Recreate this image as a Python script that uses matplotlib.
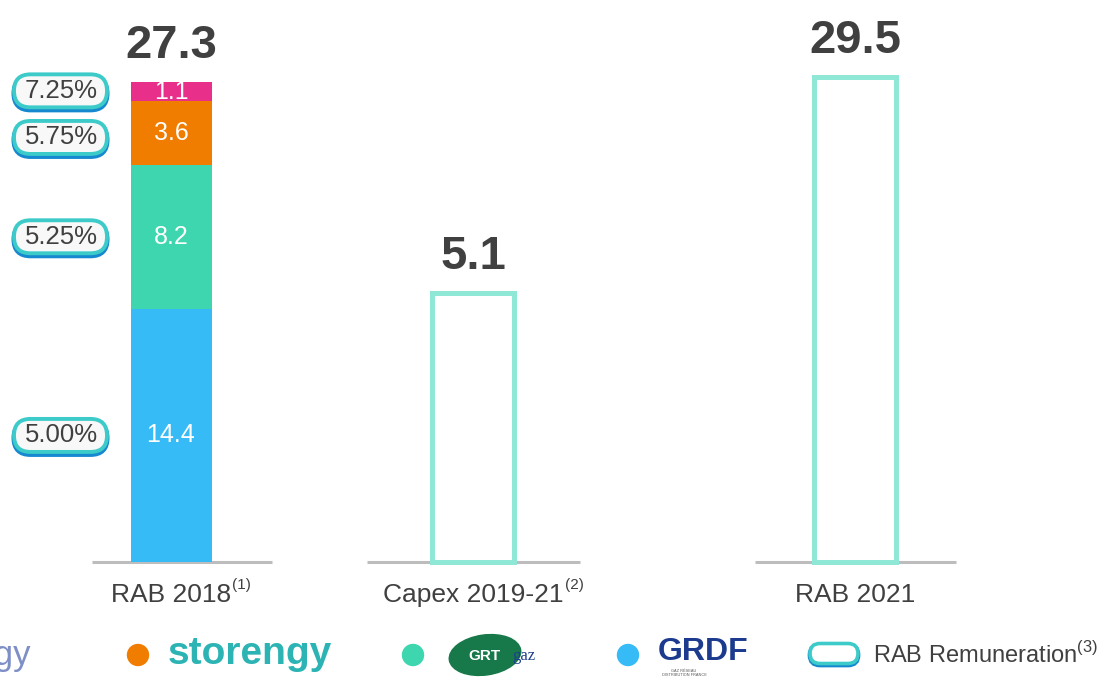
import matplotlib.pyplot as plt
import matplotlib.patches as mpatches

plt.rcParams['font.family'] = ['Liberation Sans', 'DejaVu Sans']
plt.rcParams['mathtext.fontset'] = 'custom'
plt.rcParams['mathtext.rm'] = 'Liberation Sans'

# data
categories = ['RAB 2018', 'Capex 2019-21', 'RAB 2021']
footnotes = ['(1)', '(2)', '']
totals = [27.3, 5.1, 29.5]
# drawn heights of the outlined bars (not to scale in the source)
drawn_heights = [27.3, 15.3, 27.6]
stack_values = [14.4, 8.2, 3.6, 1.1]
stack_colors = ['#36bbf7', '#3dd6ae', '#f07c00', '#e8308a']
remuneration = ['5.00%', '5.25%', '5.75%', '7.25%']

# layout (pixels)
xpos = [171, 473, 855]
base_extent = [(92, 272), (367, 580), (755, 956)]
pill_nudge = [0, 0, -0.25, 0.05]
W, H = 1101, 682
base_px = 562
unit_px = 17.58

fig = plt.figure(figsize=(11.01, 6.82), dpi=100)
ax = fig.add_axes([0, 0, 1, 1])
ax.set_xlim(0, W)
ax.set_ylim(-(H - base_px) / unit_px, base_px / unit_px)
ax.axis('off')

dark = '#404040'

# baselines
for (x0, x1) in base_extent:
    ax.plot([x0, x1], [0, 0], color='#bdbdbd', lw=2.2, zorder=1, solid_capstyle='butt')


def pill(x0, yc, w, h_px, edge_lo='#1688cf', edge_hi='#3ccbc9', fc='#f8f8f8'):
    h = h_px / unit_px
    for dy, ec, lw in [(-2.5 / unit_px, edge_lo, 3.6), (0, edge_hi, 2.8)]:
        ax.add_patch(mpatches.FancyBboxPatch((x0, yc - h / 2 + dy), w, h,
                                             boxstyle=f'round,pad=0,rounding_size={h_px / 2}',
                                             mutation_aspect=1 / unit_px,
                                             fc=fc, ec=ec, lw=lw, zorder=3))


# stacked bar
bottom = 0
for v, c, r, dn in zip(stack_values, stack_colors, remuneration, pill_nudge):
    ax.bar(xpos[0], v, width=81, bottom=bottom, color=c, zorder=2)
    mid = bottom + v / 2
    ax.text(xpos[0], mid, f'{v}', ha='center', va='center', color='white', fontsize=18, zorder=3)
    pill(14, mid + dn, 93, 33)
    ax.text(61, mid + dn, r, ha='center', va='center', fontsize=18.5, color=dark, zorder=4)
    bottom += v

# outlined bars
for i in (1, 2):
    ax.bar(xpos[i], drawn_heights[i], width=82, fill=False, edgecolor='#8ee8d5', lw=3.6, zorder=2)

# totals
tops = [sum(stack_values), drawn_heights[1], drawn_heights[2]]
for x, t, v in zip(xpos, tops, totals):
    ax.text(x, t + 0.8, f'{v}', ha='center', va='bottom', fontsize=34, fontweight='bold', color=dark)

# category labels, footnote marks hang off the right of the centred text
for x, c, f in zip(xpos, categories, footnotes):
    t = ax.text(x, -1.85, c, ha='center', va='center', fontsize=19, color=dark)
    if f:
        ax.annotate(f, xy=(1, 0.6), xycoords=t, xytext=(1, 0), textcoords='offset points',
                    ha='left', va='bottom', fontsize=11, color=dark)

# legend (pixel coords)
lg = fig.add_axes([0, 0, 1, 1])
lg.set_xlim(0, W)
lg.set_ylim(H, 0)
lg.axis('off')
ly = 655
lg.text(31, ly, 'elengy', ha='right', va='center', fontsize=25, color='#7d8fc6')
lg.scatter([138, 413, 628], [ly, ly, ly], s=260, c=[stack_colors[2], stack_colors[1], stack_colors[0]],
           edgecolors='none')
lg.text(168, ly - 1, 'storengy', ha='left', va='center', fontsize=28, fontweight='bold', color='#2cb3b3')
lg.add_patch(mpatches.Ellipse((485, ly), 72, 40, angle=-8, color='#17784a'))
lg.text(484, ly + 1, 'GRT', ha='center', va='center', fontsize=11, fontweight='bold', color='white')
lg.text(524, ly + 1, 'gaz', ha='center', va='center', fontsize=12, family='Liberation Serif', color='#1d3f8c')
lg.text(658, ly - 3, 'GRDF', ha='left', va='center', fontsize=23, fontweight='bold', color='#1c3b8e')
lg.text(684, ly + 18, 'GAZ RÉSEAU\nDISTRIBUTION FRANCE', ha='center', va='center', fontsize=2.8,
        color='#555555', linespacing=1.1)
lg.add_patch(mpatches.FancyBboxPatch((810, 645), 48, 20, boxstyle='round,pad=0,rounding_size=10',
                                     fc='white', ec='#1688cf', lw=3.4))
lg.add_patch(mpatches.FancyBboxPatch((810, 643.5), 48, 20, boxstyle='round,pad=0,rounding_size=10',
                                     fc='white', ec='#3ccbc9', lw=2.6))
lg.text(873, ly, 'RAB Remuneration$^{\\mathregular{(3)}}$', ha='left', va='center', fontsize=17, color=dark)

fig.savefig('out.png', dpi=100, facecolor='white')
